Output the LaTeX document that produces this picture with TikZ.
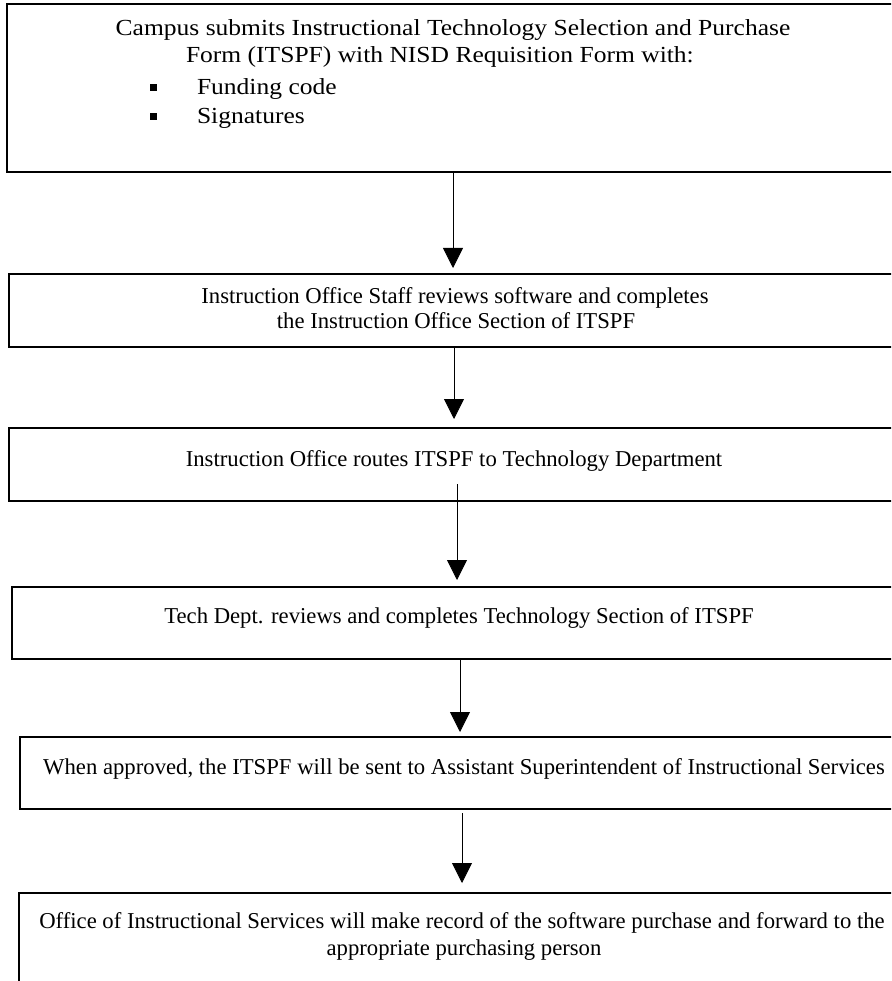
\documentclass[tikz,border=0pt]{standalone}
\usepackage{fontspec}
\newfontfamily\tnr{Liberation Serif}
\newfontfamily\widetnr[FakeStretch=1.11]{Liberation Serif}
\usetikzlibrary{arrows.meta}

\tikzset{
  box/.style={draw=black, line width=1.1pt, inner sep=0pt, outer sep=0pt, fill=none},
  flow/.style={draw=black, line width=0.8pt, -{Triangle[width=20pt,length=20pt]}},
  txt/.style={inner sep=0pt, outer sep=0pt, anchor=base, font=\tnr\fontsize{22.7}{26}\selectfont},
  gtxt/.style={inner sep=0pt, outer sep=0pt, font=\widetnr\fontsize{23}{28}\selectfont},
  bullet/.style={fill=black, inner sep=0pt, minimum size=7pt},
}

\begin{document}
\begin{tikzpicture}[x=1pt,y=-1pt]
  \useasboundingbox (0,0) rectangle (891,981);
  \clip (0,0) rectangle (891,981);
  \fill[white] (0,0) rectangle (891,981);

  % step boxes (they run on past the right edge of the sheet)
  \node[box, minimum width=892pt, minimum height=168pt] (b1) at (453,88) {};
  \node[box, minimum width=890pt, minimum height=73pt]  (b2) at (454,310.5) {};
  \node[box, minimum width=896pt, minimum height=73pt]  (b3) at (457,464.5) {};
  \node[box, minimum width=896pt, minimum height=72pt]  (b4) at (460,623) {};
  \node[box, minimum width=884pt, minimum height=72pt]  (b5) at (462,773) {};
  \node[box, minimum width=890pt, minimum height=107pt] (b6) at (464,946.5) {};

  % first step: campus request with bullet list
  \node[gtxt, anchor=base] (t1a) at (453,36) {Campus submits Instructional Technology Selection and Purchase};
  \node[gtxt, anchor=base west] (t1b) at (186,63) {Form (ITSPF) with NISD Requisition Form with:};
  \node[bullet] (p1) at (153,88) {};
  \node[gtxt, anchor=base west] (t1c) at (197,95) {Funding code};
  \node[bullet] (p2) at (153,117) {};
  \node[gtxt, anchor=base west] (t1d) at (197,124) {Signatures};

  % remaining steps
  \node[txt] (t2a) at (455,303) {Instruction Office Staff reviews software and completes};
  \node[txt] (t2b) at (456,328) {the Instruction Office Section of ITSPF};
  \node[txt] (t3)  at (454,466) {Instruction Office routes ITSPF to Technology Department};
  \node[txt] (t4)  at (459,623) {Tech Dept. reviews and completes Technology Section of ITSPF};
  \node[txt] (t5)  at (464,774) {When approved, the ITSPF will be sent to Assistant Superintendent of Instructional Services};
  \node[txt] (t6a) at (462,928) {Office of Instructional Services will make record of the software purchase and forward to the};
  \node[txt] (t6b) at (464,955) {appropriate purchasing person};

  % connectors
  \draw[flow, shorten >=6pt] (b1.south) -- (b1.south |- b2.north);
  \draw[flow, shorten >=9pt] (b2.south) -- (b2.south |- b3.north);
  \draw[flow, shorten >=7pt] ([yshift=17pt]b3.south) -- (b3.south |- b4.north);
  \draw[flow, shorten >=5pt] (b4.south) -- (b4.south |- b5.north);
  \draw[flow, shorten <=4pt, shorten >=10pt] (b5.south) -- (b5.south |- b6.north);
\end{tikzpicture}
\end{document}
